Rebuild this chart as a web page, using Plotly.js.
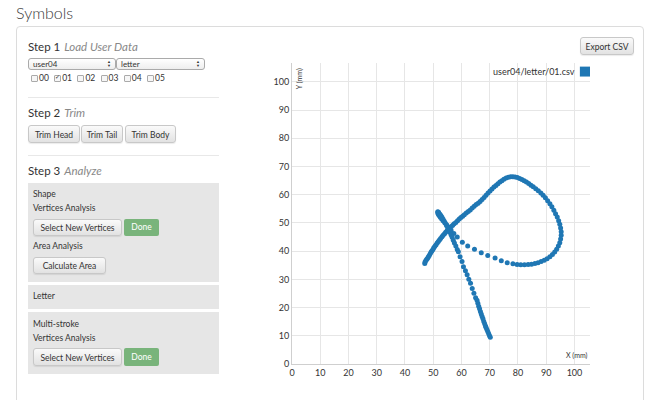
<!DOCTYPE html>
<html>
<head>
<meta charset="utf-8">
<script src="https://cdn.plot.ly/plotly-3.0.1.min.js"></script>
<style>
  html, body { margin:0; padding:0; width:650px; height:400px; overflow:hidden; background:#fff; }
  body { font-family: Lato, "Open Sans", sans-serif; color:#333; position:relative; }
  .abs { position:absolute; }
  .title { left:16px; top:3px; font-size:16px; color:#3a3a3a; font-weight:300; }
  .panel { left:16px; top:26px; width:626px; height:400px; border:1px solid #dcdcdc; border-radius:4px; }
  .step { font-size:11.5px; color:#333; white-space:nowrap; }
  .step i { color:#888; margin-left:4px; }
  .sel { height:10px; border:1px solid #aaa; border-radius:3px; background:linear-gradient(#fff,#eee); font-size:8px; line-height:10px; padding-left:4px; box-sizing:content-box; }
  .sel span { position:absolute; right:4px; top:1px; font-size:4px; line-height:4px; }
  .cb { width:5px; height:5px; border:1px solid #aaa; border-radius:1px; background:#f6f6f6; }
  .cbl { font-size:8.5px; line-height:10px; }
  .hr { left:28px; width:191px; height:1px; background:#e8e8e8; }
  .btn { height:17px; border:1px solid #c8c8c8; border-radius:3px; background:linear-gradient(#fafafa,#e2e2e2); font-size:8.5px; line-height:17px; text-align:center; color:#333; box-sizing:border-box; box-shadow:0 1px 1px rgba(0,0,0,0.08); }
  .done { height:17px; border-radius:2px; background:#79b47b; color:#fff; font-size:8.5px; line-height:17px; text-align:center; }
  .box { left:28px; width:191px; background:#e6e6e6; }
  .lab { font-size:8.5px; color:#333; white-space:nowrap; }
</style>
</head>
<body>
<div class="abs title">Symbols</div>
<div class="abs panel"></div>

<div class="abs step" style="left:28px;top:40px;">Step 1<i>Load User Data</i></div>
<div class="abs sel" style="left:28px;top:58px;width:82px;">user04<span>&#x25B2;<br>&#x25BC;</span></div>
<div class="abs sel" style="left:116px;top:58px;width:83px;">letter<span>&#x25B2;<br>&#x25BC;</span></div>
<div id="cbrow"></div>

<div class="abs hr" style="top:97px;"></div>
<div class="abs step" style="left:28px;top:106px;">Step 2<i>Trim</i></div>
<div class="abs btn" style="left:28px;top:125px;width:52px;height:18px;line-height:18px;">Trim Head</div>
<div class="abs btn" style="left:81px;top:125px;width:42px;height:18px;line-height:18px;">Trim Tail</div>
<div class="abs btn" style="left:125px;top:125px;width:51px;height:18px;line-height:18px;">Trim Body</div>

<div class="abs hr" style="top:155px;"></div>
<div class="abs step" style="left:28px;top:164px;">Step 3<i>Analyze</i></div>

<div class="abs box" style="top:183px;height:99px;"></div>
<div class="abs lab" style="left:33px;top:189px;">Shape</div>
<div class="abs lab" style="left:33px;top:203px;">Vertices Analysis</div>
<div class="abs btn" style="left:33px;top:219px;width:89px;">Select New Vertices</div>
<div class="abs done" style="left:124px;top:219px;width:35px;">Done</div>
<div class="abs lab" style="left:33px;top:241px;">Area Analysis</div>
<div class="abs btn" style="left:33px;top:257px;width:73px;">Calculate Area</div>

<div class="abs box" style="top:285px;height:24px;"></div>
<div class="abs lab" style="left:33px;top:291px;">Letter</div>

<div class="abs box" style="top:312px;height:62px;"></div>
<div class="abs lab" style="left:33px;top:319px;">Multi-stroke</div>
<div class="abs lab" style="left:33px;top:333px;">Vertices Analysis</div>
<div class="abs btn" style="left:33px;top:348px;width:89px;height:18px;line-height:18px;">Select New Vertices</div>
<div class="abs done" style="left:124px;top:348px;width:35px;height:18px;line-height:18px;">Done</div>

<div class="abs btn" style="left:580px;top:37px;width:54px;height:18px;line-height:18px;">Export CSV</div>

<div id="chart" class="abs" style="left:240px;top:40px;width:400px;height:350px;"></div>

<script>
// ---- data ----
const fileOptions = ["00", "01", "02", "03", "04", "05"];
const checkedFiles = ["01"];
const legendLabel = "user04/letter/01.csv";
const xTitle = "X (mm)";
const yTitle = "Y (mm)";
const tickValues = [0, 10, 20, 30, 40, 50, 60, 70, 80, 90, 100];

const strokeX = [
  47.0, 47.1, 47.4, 47.7, 48.0, 48.3, 48.6, 48.9, 49.2, 49.5, 49.9, 50.2, 50.6, 51.0, 51.4, 51.8,
  52.2, 52.6, 53.1, 53.5, 54.0, 54.4, 54.9, 55.4, 55.9, 56.4, 56.9, 57.4, 58.0, 58.6, 59.2, 59.8,
  60.4, 61.0, 61.7, 62.4, 63.1, 63.8, 64.5, 65.2, 65.9, 66.6, 67.3, 68.0, 68.7, 69.4, 70.1, 70.8,
  71.5, 72.2, 72.9, 73.6, 74.3, 75.0, 75.8, 76.6, 77.4, 78.2, 79.0, 79.8, 80.6, 81.4, 82.2, 83.0,
  83.8, 84.6, 85.4, 86.3, 87.2, 88.1, 88.9, 89.7, 90.5, 91.3, 92.0, 92.7, 93.3, 93.9, 94.4, 94.8,
  95.1, 95.3, 95.3, 95.1, 94.8, 94.3, 93.7, 93.0, 92.2, 91.3, 90.3, 89.3, 88.2, 87.1, 86.0, 84.8,
  83.6, 82.3, 81.0, 79.7, 78.2, 76.2, 74.1, 71.9, 69.3, 67.0, 64.6, 62.2, 60.3, 58.5, 57.3, 56.3,
  55.5, 54.8, 54.1, 53.5, 53.0, 52.5, 52.1, 51.8, 51.6, 51.6, 51.9, 52.3, 52.7, 53.1, 53.5, 53.9,
  54.3, 54.7, 55.1, 55.5, 55.9, 56.3, 56.7, 57.1, 57.5, 58.0, 58.5, 58.9, 59.5, 60.2, 60.7, 61.4,
  62.0, 62.6, 63.2, 63.8, 64.4, 65.0, 65.5, 65.8, 66.1, 66.4, 66.7, 67.0, 67.3, 67.6, 67.9, 68.2,
  68.5, 68.7, 69.0, 69.3, 69.6, 69.9, 70.2
];
const strokeY = [
  35.6, 36.2, 36.7, 37.1, 37.5, 38.0, 38.5, 39.0, 39.6, 40.1, 40.6, 41.2, 41.7, 42.3, 42.9, 43.4,
  44.0, 44.5, 45.1, 45.6, 46.2, 46.7, 47.2, 47.7, 48.2, 48.7, 49.2, 49.7, 50.2, 50.8, 51.4, 51.9,
  52.4, 52.9, 53.5, 54.1, 54.6, 55.3, 55.9, 56.5, 57.0, 57.6, 58.3, 59.0, 59.8, 60.6, 61.3, 62.0,
  62.7, 63.3, 63.9, 64.5, 65.0, 65.5, 65.9, 66.2, 66.4, 66.4, 66.3, 66.1, 65.8, 65.4, 65.0, 64.5,
  64.0, 63.4, 62.8, 62.1, 61.4, 60.6, 59.8, 58.9, 57.9, 56.8, 55.7, 54.5, 53.3, 52.1, 50.8, 49.5,
  48.2, 46.9, 45.6, 44.3, 43.0, 41.8, 40.7, 39.7, 38.8, 38.0, 37.3, 36.8, 36.3, 35.9, 35.6, 35.4,
  35.3, 35.2, 35.2, 35.3, 35.5, 35.9, 36.6, 37.6, 38.5, 39.4, 40.7, 41.8, 43.2, 45.0, 46.3, 47.4,
  48.4, 49.3, 50.1, 50.8, 51.4, 52.0, 52.6, 53.1, 53.6, 54.0, 53.8, 53.2, 52.6, 52.0, 51.3, 50.6,
  49.9, 49.1, 48.3, 47.5, 46.7, 45.8, 44.9, 43.9, 42.9, 41.8, 40.6, 39.8, 38.0, 36.3, 34.5, 33.1,
  31.6, 30.0, 28.6, 26.8, 25.1, 23.5, 22.6, 21.5, 20.5, 19.6, 18.6, 17.7, 16.8, 16.0, 15.1, 14.3,
  13.5, 12.9, 12.2, 11.5, 10.8, 10.1, 9.5
];

// ---- checkboxes row ----
const row = document.getElementById('cbrow');
fileOptions.forEach((f, i) => {
  const left = 31 + i * 23.2;
  const b = document.createElement('div');
  b.className = 'abs cb';
  b.style.left = left + 'px'; b.style.top = '75px';
  if (checkedFiles.includes(f)) {
    b.innerHTML = '<span style="position:absolute;left:0;top:-3px;font-size:6px;color:#333;">&#10003;</span>';
  }
  row.appendChild(b);
  const l = document.createElement('div');
  l.className = 'abs cbl';
  l.style.left = (left + 8) + 'px'; l.style.top = '73px';
  l.textContent = f;
  row.appendChild(l);
});

// ---- chart ----
const fnt = 'Lato, "Open Sans", sans-serif';
const trace = {
  x: strokeX, y: strokeY, type: 'scatter', mode: 'markers',
  marker: { color: '#1f77b4', size: 5 }, showlegend: false, hoverinfo: 'x+y'
};
const axisBase = {
  tickvals: tickValues, ticks: '', showgrid: true, gridcolor: '#e6e6e6', gridwidth: 1,
  zeroline: false, showline: true, linecolor: '#cfcfcf', linewidth: 1,
  tickfont: { size: 9, color: '#333', family: fnt }, fixedrange: true
};
const layout = {
  width: 400, height: 350,
  margin: { l: 52, r: 50, t: 23, b: 26, pad: 0 },
  paper_bgcolor: 'rgba(0,0,0,0)', plot_bgcolor: 'rgba(0,0,0,0)',
  font: { family: fnt, color: '#333' },
  xaxis: Object.assign({}, axisBase, { range: [0, 105.5] }),
  yaxis: Object.assign({}, axisBase, { range: [0, 106.7] }),
  showlegend: false,
  shapes: [{
    type: 'rect', xref: 'paper', yref: 'paper', x0: 0.966, x1: 1.0, y0: 0.955, y1: 0.988,
    fillcolor: '#1f77b4', line: { width: 0 }
  }],
  annotations: [
    { text: legendLabel, xref: 'paper', yref: 'paper', x: 0.955, y: 0.971, xanchor: 'right', yanchor: 'middle',
      showarrow: false, font: { size: 9, color: '#333', family: fnt } },
    { text: yTitle, xref: 'paper', yref: 'paper', x: 0.004, y: 0.99, xanchor: 'left', yanchor: 'top',
      textangle: -90, showarrow: false, font: { size: 7, color: '#333', family: fnt } },
    { text: xTitle, xref: 'paper', yref: 'paper', x: 1.0, y: 0.005, xanchor: 'right', yanchor: 'bottom',
      showarrow: false, font: { size: 7, color: '#333', family: fnt } }
  ]
};
Plotly.newPlot('chart', [trace], layout, { displayModeBar: false, staticPlot: true });
</script>
</body>
</html>
